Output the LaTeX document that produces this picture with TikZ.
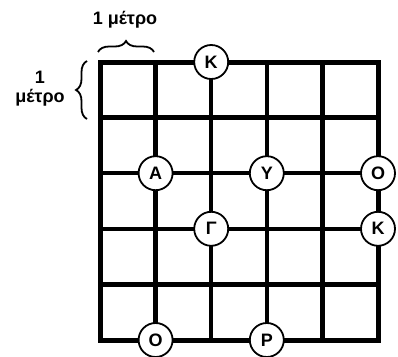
\documentclass[tikz,border=0pt]{standalone}
\usepackage{fontspec}
\setmainfont{Liberation Sans}
\usetikzlibrary{decorations.pathreplacing}
\begin{document}
\begin{tikzpicture}[x=1pt,y=-1pt,
  gridline/.style={line width=4.5pt},
  border/.style={line width=5pt,line join=miter},
  letter/.style={circle,draw,line width=1.8pt,fill=white,minimum size=34pt,inner sep=0pt,font=\fontsize{18}{20}\selectfont\bfseries},
  lbl/.style={font=\fontsize{18}{21}\selectfont\bfseries,align=center,inner sep=0pt},
  bracestyle/.style={line width=1.8pt,decorate,decoration={brace,amplitude=11pt}}]
\useasboundingbox (0,0) rectangle (398,356);
% grid
\foreach \i in {1,2,3,4}{
  \draw[gridline] ({100+\i*55.6},62) -- ({100+\i*55.6},340);
  \draw[gridline] (100,{62+\i*55.6}) -- (378,{62+\i*55.6});
}
\draw[border] (100,62) rectangle (378,340);
% braces
\coordinate (tb1) at (98,52);
\coordinate (tb2) at (154,52);
\coordinate (lb1) at (87,119);
\coordinate (lb2) at (87,61);
\draw[bracestyle] (tb1) -- (tb2);
\draw[bracestyle] (lb1) -- (lb2);
\node[lbl] (toplabel) at (125,20) {1 μέτρο};
\node[lbl] (leftlabel) at (40,89) {1\\[-2pt]μέτρο};
% letters
\node[letter] (k1) at (211.2,62) {Κ};
\node[letter] (a) at (155.6,173.2) {Α};
\node[letter] (y) at (266.8,173.2) {Υ};
\node[letter] (o1) at (378,173.2) {Ο};
\node[letter] (g) at (211.2,228.8) {Γ};
\node[letter] (k2) at (378,228.8) {Κ};
\node[letter] (o2) at (155.6,340) {Ο};
\node[letter] (p) at (266.8,340) {Ρ};
\end{tikzpicture}
\end{document}
